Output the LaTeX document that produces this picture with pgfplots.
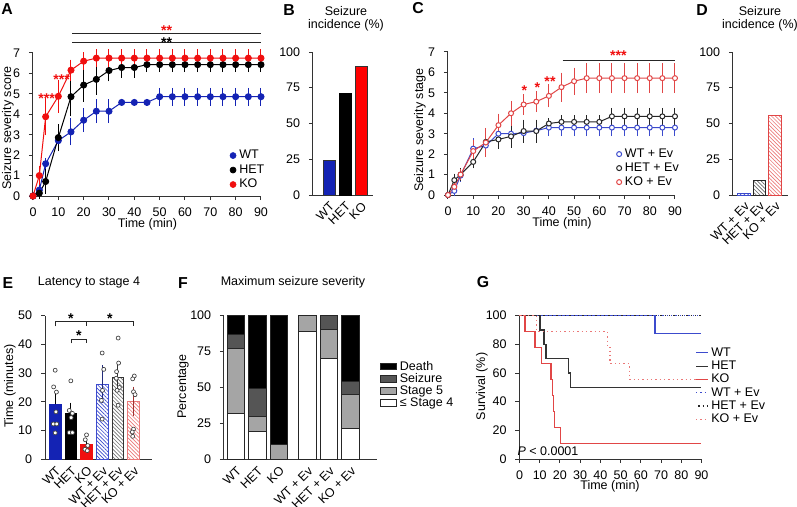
\documentclass[border=0pt]{standalone}
\usepackage{pgfplots}
\pgfplotsset{compat=1.18}
\usepackage{fontspec}
\setmainfont{Liberation Sans}
\usetikzlibrary{patterns.meta}

\definecolor{cblue}{RGB}{20,35,180}
\definecolor{cred}{RGB}{240,15,15}
\definecolor{lred}{RGB}{225,70,70}
\definecolor{pred}{RGB}{235,120,120}
\definecolor{lblue}{RGB}{60,75,205}
\definecolor{cgrayA}{RGB}{85,85,85}
\definecolor{cgrayB}{RGB}{165,165,165}

\pgfplotsset{
  base/.style={
    scale only axis, anchor=south west,
    axis lines=left, axis line style={-, line width=0.6pt, black!80},
    tick style={line width=0.6pt, black!80},
    tick align=outside, major tick length=2.4pt,
    enlargelimits=false, clip=false,
    /pgf/number format/assume math mode=true,
    tick label style={font=\fontsize{7.5}{9}\selectfont},
    yticklabel style={xshift=-1.8pt},
    legend style={font=\fontsize{7.5}{9}\selectfont, draw=none, fill=none, inner sep=0pt},
    legend cell align=left,
  },
  nox/.style={every x tick/.append style={draw=none}},
  shx/.style={xticklabel style={yshift=-1pt}},
  rotx/.style={xticklabel style={rotate=45, anchor=north east, inner sep=0.8pt}},
  eb/.style={error bars/y dir=both, error bars/y explicit,
    error bars/error bar style={line width=0.6pt},
    error bars/error mark options={mark size=2pt, line width=0.6pt}},
}

\begin{document}
\begin{tikzpicture}[x=0.6pt,y=0.6pt,font=\fontsize{7.5}{9}\selectfont]
\path[use as bounding box] (0,0) rectangle (797,506);

% ---------------- A ----------------
\begin{axis}[base, shx, at={(19.8pt,186pt)}, width=136.8pt, height=85.8pt,
  xmin=0,xmax=90,ymin=0,ymax=7, xtick={0,10,...,90}, ytick={0,1,...,7},
  legend style={at={(1.02,0.03)}, anchor=south east, nodes={inner sep=0.5pt, text height=5.6pt, text depth=1.6pt}, row sep=0.5pt, column sep=1.5pt},
  legend image code/.code={\draw[#1] plot coordinates {(0pt,0pt)};}]
\addplot[cblue, mark=*, mark size=1.8pt, line width=0.6pt, forget plot, eb] coordinates {
(0,0)+-(0,0) (2.5,0.29)+-(0,0.1) (5,1.58)+-(0,0.1) (10,2.71)+-(0,0.35) (15,3.14)+-(0,0.5)
(20,3.71)+-(0,0.42) (25,4.15)+-(0,0.42) (30,4.15)+-(0,0.42) (35,4.58)+-(0,0) (40,4.58)+-(0,0)
(45,4.58)+-(0,0) (50,4.86)+-(0,0.27) (55,4.86)+-(0,0.27) (60,4.86)+-(0,0.27) (65,4.86)+-(0,0.27)
(70,4.86)+-(0,0.27) (75,4.86)+-(0,0.27) (80,4.86)+-(0,0.27) (85,4.86)+-(0,0.27) (90,4.86)+-(0,0.27)};
\addplot[black, mark=*, mark size=1.8pt, line width=0.6pt, forget plot, eb] coordinates {
(0,0)+-(0,0) (2.5,0.14)+-(0,0.1) (5,0.71)+-(0,0.43) (10,2.86)+-(0,0.5) (15,4.86)+-(0,0.8)
(20,5.43)+-(0,0.65) (25,5.71)+-(0,0.6) (30,6.14)+-(0,0.36) (35,6.29)+-(0,0.33) (40,6.29)+-(0,0.35)
(45,6.43)+-(0,0.2) (50,6.43)+-(0,0.2) (55,6.43)+-(0,0.2) (60,6.43)+-(0,0.2) (65,6.43)+-(0,0.2)
(70,6.43)+-(0,0.2) (75,6.43)+-(0,0.2) (80,6.43)+-(0,0.2) (85,6.43)+-(0,0.2) (90,6.43)+-(0,0.2)};
\addplot[cred, mark=*, mark size=1.8pt, line width=0.6pt, forget plot, eb] coordinates {
(0,0)+-(0,0) (2.5,1.0)+-(0,0.3) (5,3.88)+-(0,0.75) (10,4.88)+-(0,0.65) (15,6.16)+-(0,0.35)
(20,6.6)+-(0,0.27) (25,6.75)+-(0,0.27) (30,6.75)+-(0,0.27) (35,6.75)+-(0,0.27) (40,6.75)+-(0,0.27)
(45,6.75)+-(0,0.27) (50,6.75)+-(0,0.27) (55,6.75)+-(0,0.27) (60,6.75)+-(0,0.27) (65,6.75)+-(0,0.27)
(70,6.75)+-(0,0.27) (75,6.75)+-(0,0.27) (80,6.75)+-(0,0.27) (85,6.75)+-(0,0.27) (90,6.75)+-(0,0.27)};
\addlegendimage{cblue, mark=*, mark size=1.8pt}\addlegendentry{WT}
\addlegendimage{black, mark=*, mark size=1.8pt}\addlegendentry{HET}
\addlegendimage{cred, mark=*, mark size=1.8pt}\addlegendentry{KO}
\end{axis}

% ---------------- B ----------------
\begin{axis}[base, nox, rotx, at={(187.8pt,186.6pt)}, width=36pt, height=85.8pt,
  xmin=-1, xmax=2.75, ymin=0, ymax=100, ytick={0,25,50,75,100},
  xtick={0,1,2}, xticklabels={WT,HET,KO}]
\addplot[ybar, bar shift=0pt, bar width=7.2pt, fill=cblue, draw=black!80, line width=0.5pt] coordinates {(0,24)};
\addplot[ybar, bar shift=0pt, bar width=7.2pt, fill=black, draw=black, line width=0.5pt] coordinates {(1,71.3)};
\addplot[ybar, bar shift=0pt, bar width=7.2pt, fill=red, draw=black!80, line width=0.5pt] coordinates {(2,90.2)};
\end{axis}

% ---------------- C ----------------
\begin{axis}[base, shx, at={(268.8pt,186.6pt)}, width=136.2pt, height=85.8pt,
  xmin=0,xmax=90,ymin=0,ymax=7, xtick={0,10,...,90}, ytick={0,1,...,7},
  legend style={at={(1.022,0.04)}, anchor=south east, nodes={inner sep=0.5pt, text height=5.6pt, text depth=1.6pt}, row sep=0.2pt, column sep=1.5pt},
  legend image code/.code={\draw[#1] plot coordinates {(0pt,0pt)};}]
\addplot[lblue, mark=*, mark options={fill=white}, mark size=1.5pt, line width=0.6pt, forget plot, eb] coordinates {
(0,0)+-(0,0) (2.5,0.2)+-(0,0.1) (5,0.95)+-(0,0.15) (10,2.27)+-(0,0.35) (15,2.42)+-(0,0.25)
(20,3.0)+-(0,0.2) (25,3.0)+-(0,0.25) (30,3.03)+-(0,0.15) (35,3.15)+-(0,0.3) (40,3.3)+-(0,0.25)
(45,3.3)+-(0,0.25) (50,3.3)+-(0,0.25) (55,3.3)+-(0,0.25) (60,3.3)+-(0,0.25) (65,3.3)+-(0,0.25)
(70,3.3)+-(0,0.25) (75,3.3)+-(0,0.25) (80,3.3)+-(0,0.25) (85,3.3)+-(0,0.25) (90,3.3)+-(0,0.25)};
\addplot[black!85, mark=*, mark options={fill=white}, mark size=1.5pt, line width=0.6pt, forget plot, eb] coordinates {
(0,0)+-(0,0) (2.5,0.73)+-(0,0.15) (5,1.0)+-(0,0.15) (10,1.62)+-(0,0.15) (15,2.6)+-(0,0.3)
(20,2.72)+-(0,0.3) (25,2.87)+-(0,0.4) (30,3.13)+-(0,0.4) (35,3.13)+-(0,0.4) (40,3.5)+-(0,0.1)
(45,3.58)+-(0,0.15) (50,3.58)+-(0,0.15) (55,3.58)+-(0,0.15) (60,3.58)+-(0,0.15) (65,3.85)+-(0,0.25)
(70,3.85)+-(0,0.25) (75,3.85)+-(0,0.25) (80,3.85)+-(0,0.25) (85,3.85)+-(0,0.25) (90,3.85)+-(0,0.25)};
\addplot[lred, mark=*, mark options={fill=white}, mark size=1.5pt, line width=0.6pt, forget plot, eb] coordinates {
(0,0)+-(0,0) (2.5,0.4)+-(0,0.1) (5,1.0)+-(0,0.1) (10,2.15)+-(0,0.4) (15,2.57)+-(0,0.55)
(20,3.42)+-(0,0.4) (25,4.0)+-(0,0.45) (30,4.43)+-(0,0.35) (35,4.57)+-(0,0.35) (40,4.85)+-(0,0.4)
(45,5.28)+-(0,0.55) (50,5.57)+-(0,0.5) (55,5.72)+-(0,0.57) (60,5.72)+-(0,0.57) (65,5.72)+-(0,0.57)
(70,5.72)+-(0,0.57) (75,5.72)+-(0,0.57) (80,5.72)+-(0,0.57) (85,5.72)+-(0,0.57) (90,5.72)+-(0,0.57)};
\addlegendimage{lblue, mark=*, mark options={fill=white}, mark size=1.5pt, line width=0.6pt}\addlegendentry{WT + Ev}
\addlegendimage{black!85, mark=*, mark options={fill=white}, mark size=1.5pt, line width=0.6pt}\addlegendentry{HET + Ev}
\addlegendimage{lred, mark=*, mark options={fill=white}, mark size=1.5pt, line width=0.6pt}\addlegendentry{KO + Ev}
\end{axis}

% ---------------- D ----------------
\begin{axis}[base, nox, rotx, at={(439.8pt,186.6pt)}, width=33pt, height=85.8pt,
  xmin=-0.7, xmax=2.85, ymin=0, ymax=100, ytick={0,25,50,75,100},
  xtick={0,1,2}, xticklabels={WT + Ev,HET + Ev,KO + Ev}]
\addplot[ybar, bar shift=0pt, bar width=7.5pt, draw=lblue, line width=0.5pt, pattern={Lines[angle=-45,distance=1.6pt,line width=0.4pt]}, pattern color=lblue] coordinates {(0,1.2)};
\addplot[ybar, bar shift=0pt, bar width=7.5pt, draw=black!85, line width=0.5pt, pattern={Lines[angle=-45,distance=1.6pt,line width=0.4pt]}, pattern color=black!60] coordinates {(1,10.3)};
\addplot[ybar, bar shift=0pt, bar width=7.5pt, draw=lred, line width=0.5pt, pattern={Lines[angle=-45,distance=1.6pt,line width=0.4pt]}, pattern color=pred] coordinates {(2,55.6)};
\end{axis}

% ---------------- E ----------------
\begin{axis}[base, nox, rotx, at={(27pt,28.02pt)}, width=64pt, height=86.2pt,
  xmin=-0.65, xmax=6.16, ymin=0, ymax=50, ytick={0,10,...,50},
  xtick={0,...,5}, xticklabels={WT,HET,KO,WT + Ev,HET + Ev,KO + Ev}]
\addplot[ybar, bar shift=0pt, bar width=7pt, fill=cblue, draw=cblue, line width=0.6pt, error bars/y dir=plus, error bars/y explicit, error bars/error bar style={black, line width=0.6pt}, error bars/error mark options={black, mark size=2.4pt, line width=0.6pt}] coordinates {(0,19.1) +- (0,2.9)};
\addplot[ybar, bar shift=0pt, bar width=7pt, fill=black, draw=black, line width=0.6pt, error bars/y dir=plus, error bars/y explicit, error bars/error bar style={black, line width=0.6pt}, error bars/error mark options={black, mark size=2.4pt, line width=0.6pt}] coordinates {(1,15.8) +- (0,2.5)};
\addplot[ybar, bar shift=0pt, bar width=7pt, fill=cred, draw=cred, line width=0.6pt, error bars/y dir=plus, error bars/y explicit, error bars/error bar style={black, line width=0.6pt}, error bars/error mark options={black, mark size=2.4pt, line width=0.6pt}] coordinates {(2,5.3) +- (0,0.8)};
\addplot[ybar, bar shift=0pt, bar width=7pt, draw=lblue, line width=0.6pt, pattern={Lines[angle=-45,distance=1.6pt,line width=0.4pt]}, pattern color=lblue, error bars/y dir=both, error bars/y explicit, error bars/error bar style={lblue!60!black, line width=0.6pt}, error bars/error mark options={lblue!60!black, mark size=2.4pt, line width=0.6pt}] coordinates {(3,26.1) +- (0,5.2)};
\addplot[ybar, bar shift=0pt, bar width=7pt, draw=black!80, line width=0.6pt, pattern={Lines[angle=-45,distance=1.6pt,line width=0.4pt]}, pattern color=black!55, error bars/y dir=both, error bars/y explicit, error bars/error bar style={black!80, line width=0.6pt}, error bars/error mark options={black!80, mark size=2.4pt, line width=0.6pt}] coordinates {(4,28.5) +- (0,3.4)};
\addplot[ybar, bar shift=0pt, bar width=7pt, draw=pred, line width=0.6pt, pattern={Lines[angle=-45,distance=1.6pt,line width=0.4pt]}, pattern color=pred, error bars/y dir=both, error bars/y explicit, error bars/error bar style={lred!70!black, line width=0.6pt}, error bars/error mark options={lred!70!black, mark size=2.4pt, line width=0.6pt}] coordinates {(5,20.1) +- (0,3.8)};
\addplot[only marks, mark=*, mark size=1.2pt, mark options={fill=white, draw=black!75, line width=0.4pt}] coordinates {
(0,31) (-0.1,25.2) (0.08,23.4) (0.05,16.5) (-0.12,12.3) (0.1,12.3) (0,9.2)
(1,27.3) (0.9,17) (1.1,16) (1.02,14.5) (0.9,9.3) (1.1,9.3)
(2,8.5) (1.92,6.8) (2.08,4.8) (1.9,3.5) (2.05,3.0)
(3,37) (3.1,31.3) (3.02,24) (2.95,20.5) (3,14)
(4.02,42.2) (4.05,33.5) (3.92,30.5) (3.9,28.2) (4.1,25) (3.95,24) (4.02,18.8)
(5.05,29) (4.95,28) (5,23.5) (5.1,22.5) (5,10.5) (4.92,9.5) (4.95,8)};
\end{axis}

% ---------------- F ----------------
\begin{axis}[base, nox, rotx, at={(134.4pt,28.02pt)}, width=91.8pt, height=86.2pt,
  xmin=-0.55, xmax=6.57, ymin=0, ymax=100, ytick={0,25,50,75,100},
  xtick={0,1,2,3.33,4.33,5.33}, xticklabels={WT,HET,KO,WT + Ev,HET + Ev,KO + Ev},
  ybar stacked, bar width=10.5pt, reverse legend,
  legend image code/.code={\draw[#1] (0pt,-2pt) rectangle (9.6pt,2pt);},
  legend style={at={(1.02,0.69)}, anchor=north west, nodes={inner sep=0.5pt, text height=5.3pt, text depth=1pt}, row sep=0pt, column sep=1pt}]
\addplot[fill=white, draw=black!85, line width=0.6pt] coordinates {(0,32) (1,19.3) (2,0) (3.33,88.9) (4.33,70.2) (5.33,21.6)};
\addlegendentry{≤ Stage 4}
\addplot[fill=cgrayB, draw=black!85, line width=0.6pt] coordinates {(0,45) (1,10.4) (2,10) (3.33,11.1) (4.33,20) (5.33,23.3)};
\addlegendentry{Stage 5}
\addplot[fill=cgrayA, draw=black!85, line width=0.6pt] coordinates {(0,10) (1,19.7) (2,0) (3.33,0) (4.33,9.8) (5.33,9.3)};
\addlegendentry{Seizure}
\addplot[fill=black, draw=black!85, line width=0.6pt] coordinates {(0,13) (1,50.6) (2,90) (3.33,0) (4.33,0) (5.33,45.8)};
\addlegendentry{Death}
\end{axis}

% ---------------- G ----------------
\begin{axis}[base, shx, at={(311.7pt,28.2pt)}, width=109.2pt, height=86pt,
  xmin=0,xmax=90,ymin=0,ymax=100, xtick={0,10,...,90}, ytick={0,20,...,100},
  legend image code/.code={\draw[#1] (0pt,0pt) -- (7.2pt,0pt);},
  legend style={at={(0.965,0.79)}, anchor=north west, nodes={inner sep=0.5pt, text height=5.5pt, text depth=1.5pt}, row sep=0pt, column sep=1pt}]
\addplot[const plot, lblue, line width=0.7pt] coordinates {(0,100) (67,87.5) (90,87.5)};
\addlegendentry{WT}
\addplot[const plot, black!80, line width=0.7pt] coordinates {(0,100) (10.1,90) (12.1,80) (13.1,70) (24.3,60) (25.3,50) (90,50)};
\addlegendentry{HET}
\addplot[const plot, lred, line width=0.7pt] coordinates {(0,100) (2.7,88.9) (7.7,77.8) (11,66.7) (15.6,55.6) (16.2,44.4) (17.0,33.3) (17.3,22.2) (20.4,11.1) (90,11.1)};
\addlegendentry{KO}
\addplot[const plot, lblue, line width=0.8pt, dash pattern=on 0.8pt off 1.8pt] coordinates {(0,100) (90,100)};
\addlegendentry{WT + Ev}
\addplot[const plot, black!85, line width=0.8pt, dash pattern=on 0.8pt off 1.8pt, dash phase=1.3pt] coordinates {(0,100) (90,100)};
\addlegendentry{HET + Ev}
\addplot[const plot, pred, line width=0.8pt, dash pattern=on 0.8pt off 1.8pt] coordinates {(0,100) (8.5,88.9) (43.4,77.8) (44.8,66.7) (54.3,55.6) (90,55.6)};
\addlegendentry{KO + Ev}
\end{axis}

% ---------------- texts and annotations ----------------
\begin{scope}[font=\bfseries\fontsize{9.5}{9.5}\selectfont]
\node at (7,496.5) {A};
\node at (289,496) {B};
\node at (418,497.5) {C};
\node at (702,496) {D};
\node at (8,223) {E};
\node at (183,223) {F};
\node at (483,224) {G};
\end{scope}

\node[align=center, font=\fontsize{7.5}{7.8}\selectfont] at (346,487.5) {Seizure\\incidence (\%)};
\node[align=center, font=\fontsize{7.5}{7.8}\selectfont] at (760,487.5) {Seizure\\incidence (\%)};
\node at (89,223.3) {Latency to stage 4};
\node at (293,223.3) {Maximum seizure severity};

\node[rotate=90] at (8,378) {Seizure severity score};
\node at (147.5,282) {Time (min)};
\node[rotate=90] at (420,376) {Seizure severity stage};
\node at (562,282.5) {Time (min)};
\node[rotate=90] at (10,120) {Time (minutes)};
\node[rotate=90] at (183,119.5) {Percentage};
\node[rotate=90] at (482,119.5) {Survival (\%)};
\node at (610,20) {Time (min)};
\node at (548,55) {\textit{P} < 0.0001};

\begin{scope}[line width=0.6pt, black!85]
\draw (72,463) -- (261,463);
\draw (72,472.7) -- (261,472.7);
\draw (562.7,445.3) -- (675,445.3);
\draw (55.2,179.7) -- (55.2,184.3) -- (86.5,184.3) -- (86.5,179.7);
\draw (86.5,184.3) -- (133.5,184.3) -- (133.5,179.7);
\draw (71.5,162.7) -- (71.5,166.7) -- (86.5,166.7) -- (86.5,162.7);
\end{scope}

\begin{scope}[font=\bfseries\fontsize{8.5}{8.5}\selectfont, anchor=base]
\node[anchor=base] at (166.7,458.5) {**};
\node[anchor=base, text=cred] at (166.7,470.5) {**};
\node[anchor=base, text=cred] at (46.7,402.8) {***};
\node[anchor=base, text=cred] at (61.7,421.8) {***};
\node[anchor=base, text=cred] at (524.3,410.5) {*};
\node[anchor=base, text=cred] at (537.3,413.5) {*};
\node[anchor=base, text=cred] at (550,419.5) {**};
\node[anchor=base, text=cred] at (618.3,445.5) {***};
\node[anchor=base] at (70.9,182.8) {*};
\node[anchor=base] at (110,182.8) {*};
\node[anchor=base] at (79,165.1) {*};
\end{scope}

\end{tikzpicture}
\end{document}
